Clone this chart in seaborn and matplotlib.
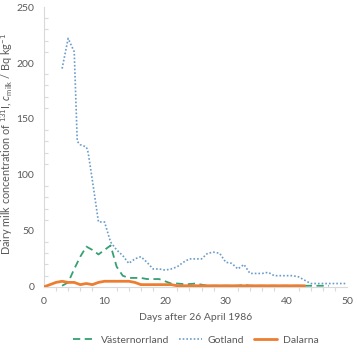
import numpy as np
import pandas as pd
import matplotlib
matplotlib.use("Agg")
import matplotlib.pyplot as plt
import seaborn as sns

# ---- data ----
vaster_days = [3, 4, 5, 6, 7, 8, 9, 10, 11, 12, 13, 14, 15, 16, 17, 18, 19, 20, 21, 22, 23, 24, 25,
               26, 27, 28, 29, 30, 31, 32, 33, 34, 35, 36, 37, 38, 39, 40, 41, 42, 43, 44, 45, 46, 47]
vaster_vals = [1, 4, 16, 27, 36, 33, 29, 33, 37, 18, 10, 8, 8, 8, 7, 7, 7, 5, 3, 3, 2.5, 2.5, 3,
               2, 1, 1, 1, 1, 1, 1, 2, 1, 1, 1, 1, 1, 1, 1, 1, 1, 1, 1, 1, 1, 1]

gotland_days = [3, 4, 5, 5.5, 6, 7, 7.3, 8, 9, 10, 11, 12, 13, 14, 15, 16, 17, 18, 19, 20, 21, 22, 23,
                24, 25, 26, 27, 28, 29, 30, 31, 32, 33, 34, 35, 36, 37, 38, 39, 40, 41, 42, 43, 44,
                45, 46, 47, 48, 49, 50]
gotland_vals = [195, 222, 210, 130, 127, 125, 120, 95, 58, 58, 40, 33, 28, 21, 25, 27, 22, 16, 16, 15,
                16, 18, 22, 25, 25, 25, 30, 31, 30, 22, 21, 16, 20, 12, 12, 12, 13, 10, 10, 10, 10,
                9, 6, 3, 3, 3, 3, 3, 3, 3]

dalarna_days = list(range(0, 44))
dalarna_vals = [0, 2, 4, 5, 4, 4, 2, 3, 2, 4, 5, 5, 5, 5, 5, 4, 2, 2, 2, 2, 2, 2, 1, 1, 1, 1, 1, 1,
                1, 1, 1, 1, 1, 1, 1, 1, 1, 1, 1, 1, 1, 1, 1, 1]

series_names = ["Västernorrland", "Gotland", "Dalarna"]
x_label = "Days after 26 April 1986"
y_label = r"Dairy milk concentration of $^{131}$I, $c_{\mathrm{milk}}$ / Bq kg$^{-1}$"

sns.set_theme(style="white")
plt.rcParams["font.family"] = ["Lato", "DejaVu Sans"]
plt.rcParams["mathtext.fontset"] = "custom"
plt.rcParams["mathtext.rm"] = "Lato"
plt.rcParams["mathtext.it"] = "Lato:italic"

fig = plt.figure(figsize=(3.57, 3.52), dpi=100)
ax = fig.add_axes([0.123, 0.185, 0.849, 0.795])

frames = [
    pd.DataFrame({"day": vaster_days, "val": vaster_vals, "region": series_names[0]}),
    pd.DataFrame({"day": gotland_days, "val": gotland_vals, "region": series_names[1]}),
    pd.DataFrame({"day": dalarna_days, "val": dalarna_vals, "region": series_names[2]}),
]

styles = {
    "Västernorrland": dict(color="#35A072", lw=1.3, ls=(0, (4, 2.5))),
    "Gotland": dict(color="#6A9CC9", lw=1.2, ls=(0, (1, 1.2))),
    "Dalarna": dict(color="#ED7D31", lw=2.0, ls="-"),
}
for df in frames:
    name = df["region"].iloc[0]
    st = styles[name]
    sns.lineplot(data=df, x="day", y="val", ax=ax, color=st["color"], linewidth=st["lw"],
                 linestyle=st["ls"], label=name, zorder=3 if name == "Dalarna" else 2)

ax.set_xlim(0, 50)
ax.set_ylim(0, 250)
ax.set_xticks(np.arange(0, 51, 10))
ax.set_yticks(np.arange(0, 251, 50))
ax.set_xticks(np.arange(0, 51, 2), minor=True)
ax.set_yticks(np.arange(0, 251, 10), minor=True)

grey = "#595959"
for s in ["top", "right"]:
    ax.spines[s].set_visible(False)
ax.spines["left"].set_color("#D9D9D9")
ax.spines["bottom"].set_color("#D9D9D9")
ax.spines["left"].set_linewidth(0.8)
ax.spines["bottom"].set_linewidth(0.8)

ax.tick_params(axis="both", which="major", length=0, labelsize=7.5, labelcolor=grey)
ax.tick_params(axis="y", which="major", pad=7)
ax.tick_params(axis="x", which="major", pad=7)
ax.tick_params(axis="y", which="minor", direction="in", length=3, color="#D9D9D9", width=0.8, left=True)
ax.tick_params(axis="x", which="minor", direction="out", length=3, color="#D9D9D9", width=0.8, bottom=True)

ax.set_xlabel(x_label, fontsize=7.5, color=grey, labelpad=5)
ax.set_ylabel(y_label, fontsize=7.8, color=grey, va="center")
ax.yaxis.set_label_coords(-0.122, 0.51)

leg = ax.legend(loc="center", bbox_to_anchor=(0.5, -0.19), ncol=3, frameon=False,
                fontsize=7.5, handlelength=2.2, columnspacing=1.0, handletextpad=0.5)
for t in leg.get_texts():
    t.set_color(grey)

fig.savefig("out.png", dpi=100)
